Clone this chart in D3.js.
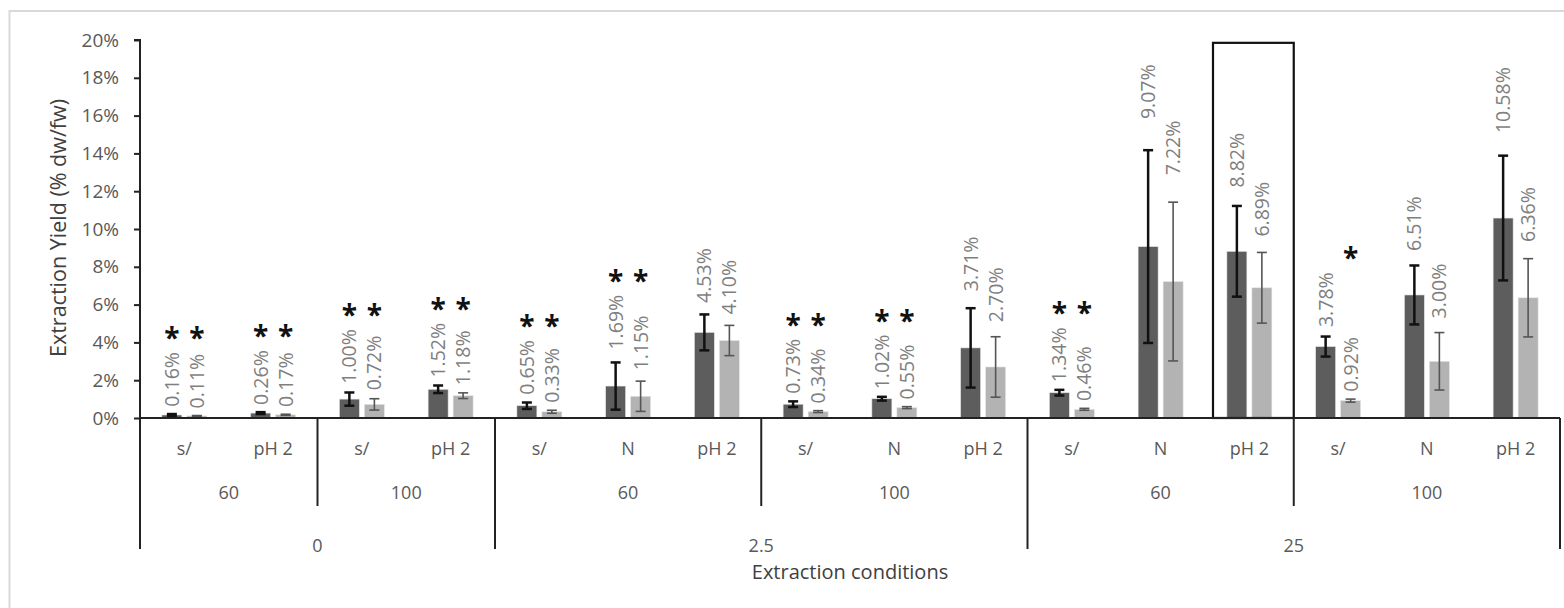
<!DOCTYPE html>
<html>
<head>
<meta charset="utf-8">
<script src="https://cdn.jsdelivr.net/npm/d3@7"></script>
<style>
  html, body { margin: 0; padding: 0; background: #fff; }
  svg { display: block; }
  text { font-family: "Open Sans", "Noto Sans", sans-serif; }
</style>
</head>
<body>
<svg id="chart" width="1564" height="608"></svg>
<script>
// ---- data ----
const concentrations = ["0", "2.5", "25"];
const temperatures = [
  { conc: "0", temp: "60" }, { conc: "0", temp: "100" },
  { conc: "2.5", temp: "60" }, { conc: "2.5", temp: "100" },
  { conc: "25", temp: "60" }, { conc: "25", temp: "100" }
];
const categories = ["s/", "pH 2", "s/", "pH 2",
  "s/", "N", "pH 2", "s/", "N", "pH 2",
  "s/", "N", "pH 2", "s/", "N", "pH 2"];
const tempIndex = [0, 0, 1, 1, 2, 2, 2, 3, 3, 3, 4, 4, 4, 5, 5, 5];
const darkValues = [0.16, 0.26, 1.00, 1.52, 0.65, 1.69, 4.53, 0.73, 1.02, 3.71, 1.34, 9.07, 8.82, 3.78, 6.51, 10.58];
const lightValues = [0.11, 0.17, 0.72, 1.18, 0.33, 1.15, 4.10, 0.34, 0.55, 2.70, 0.46, 7.22, 6.89, 0.92, 3.00, 6.36];
const darkErrors = [0.05, 0.05, 0.35, 0.2, 0.17, 1.25, 0.95, 0.15, 0.1, 2.1, 0.15, 5.1, 2.4, 0.53, 1.56, 3.3];
const lightErrors = [0.02, 0.03, 0.3, 0.15, 0.08, 0.8, 0.8, 0.05, 0.05, 1.6, 0.05, 4.2, 1.87, 0.08, 1.52, 2.07];
const darkSignificant = [1, 1, 1, 1, 1, 1, 0, 1, 1, 0, 1, 0, 0, 0, 0, 0];
const lightSignificant = [1, 1, 1, 1, 1, 1, 0, 1, 1, 0, 1, 0, 0, 1, 0, 0];
const yTicks = [0, 2, 4, 6, 8, 10, 12, 14, 16, 18, 20];
const highlightedCategory = 12;
const yTitle = "Extraction Yield (% dw/fw)";
const xTitle = "Extraction conditions";

(function () {
// ---- layout ----
const svg = d3.select("#chart");
const pl = 140, pr = 1560, pt = 40, pb = 418;
const x = d3.scaleBand().domain(d3.range(categories.length)).range([pl, pr]).padding(0);
const y = d3.scaleLinear().domain([0, 20]).range([pb, pt]);
const barW = 20, barGap = 5;
const fmt = v => v.toFixed(2) + "%";

// chart border
svg.append("path").attr("d", `M9.5,608 V11 H1564`).attr("fill", "none")
  .attr("stroke", "#d9d9d9").attr("stroke-width", 2);

// y axis
const yAxis = d3.axisLeft(y).tickValues(yTicks).tickFormat(d => d + "%").tickSize(6).tickPadding(15);
const gy = svg.append("g").attr("transform", `translate(${pl},0)`).call(yAxis);
gy.select(".domain").attr("stroke", "#222").attr("stroke-width", 2).attr("d", `M-6,${pt}H0V${pb}`);
gy.selectAll(".tick line").attr("stroke", "#222").attr("stroke-width", 2);
gy.selectAll(".tick text").attr("fill", "#595959").attr("font-size", 19).attr("font-family", "Open Sans");

// bars
const series = [
  { key: "dark", values: darkValues, errors: darkErrors, sig: darkSignificant, fill: "#5d5d5d", err: "#111", errW: 2.5, off: -barGap / 2 - barW },
  { key: "light", values: lightValues, errors: lightErrors, sig: lightSignificant, fill: "#b3b3b3", err: "#555", errW: 1.6, off: barGap / 2 }
];
const center = i => x(i) + x.bandwidth() / 2;

series.forEach(s => {
  const g = svg.append("g");
  g.selectAll("rect").data(s.values).join("rect")
    .attr("x", (d, i) => center(i) + s.off)
    .attr("width", barW)
    .attr("y", d => y(d))
    .attr("height", d => y(0) - y(d))
    .attr("fill", s.fill)
    .attr("stroke", "#e6e6e6").attr("stroke-width", 0.6);
  const eg = svg.append("g").attr("stroke", s.err).attr("stroke-width", s.errW);
  s.values.forEach((v, i) => {
    const cx = center(i) + s.off + barW / 2;
    const hi = y(v + s.errors[i]), lo = y(Math.max(0, v - s.errors[i]));
    eg.append("line").attr("x1", cx).attr("x2", cx).attr("y1", hi).attr("y2", lo);
    eg.append("line").attr("x1", cx - 5).attr("x2", cx + 5).attr("y1", hi).attr("y2", hi);
    eg.append("line").attr("x1", cx - 5).attr("x2", cx + 5).attr("y1", lo).attr("y2", lo);
  });
});

// data labels (rotated) and asterisks
const labelSize = 19.5;
const labelTops = categories.map(() => Infinity);
series.forEach(s => {
  s.values.forEach((v, i) => {
    const cx = center(i) + s.off + barW / 2;
    const errTop = y(v + s.errors[i]);
    const errPx = y(v) - errTop;
    const startY = errTop - (7 + 0.25 * errPx);
    const t = svg.append("text")
      .attr("transform", `translate(${cx + labelSize * 0.36},${startY}) rotate(-90)`)
      .attr("font-size", labelSize).attr("fill", "#7f7f7f")
      .text(fmt(v));
    const len = t.node().getComputedTextLength();
    labelTops[i] = Math.min(labelTops[i], startY - len);
  });
});
series.forEach(s => {
  s.values.forEach((v, i) => {
    if (!s.sig[i]) return;
    const cx = center(i) + s.off + barW / 2;
    const cy = labelTops[i] - 21;
    svg.append("text").attr("x", cx).attr("y", cy + 17)
      .attr("text-anchor", "middle").attr("font-size", 28).attr("font-weight", "bold")
      .attr("fill", "#111").text("*");
  });
});

// highlight box
svg.append("rect")
  .attr("x", x(highlightedCategory) + 8).attr("y", y(19.85))
  .attr("width", x.bandwidth() - 8).attr("height", y(0) - y(19.85))
  .attr("fill", "none").attr("stroke", "#111").attr("stroke-width", 2.2);

// x axis line
svg.append("line").attr("x1", pl).attr("x2", pr).attr("y1", pb).attr("y2", pb)
  .attr("stroke", "#222").attr("stroke-width", 2);

// category labels
svg.append("g").selectAll("text").data(categories).join("text")
  .attr("x", (d, i) => center(i)).attr("y", 455)
  .attr("text-anchor", "middle").attr("font-size", 18).attr("fill", "#595959")
  .text(d => d);

// temperature group labels + separators
const tempRanges = temperatures.map((t, k) => {
  const idx = tempIndex.map((ti, i) => ti === k ? i : -1).filter(i => i >= 0);
  return { label: t.temp, conc: t.conc, start: x(idx[0]), end: x(idx[idx.length - 1]) + x.bandwidth() };
});
tempRanges.forEach(r => {
  svg.append("text").attr("x", (r.start + r.end) / 2).attr("y", 499)
    .attr("text-anchor", "middle").attr("font-size", 18).attr("fill", "#595959").text(r.label);
});
const concRanges = concentrations.map(c => {
  const rs = tempRanges.filter(r => r.conc === c);
  return { label: c, start: rs[0].start, end: rs[rs.length - 1].end };
});
tempRanges.forEach((r, k) => {
  if (k === 0) return;
  const isOuter = concRanges.some(c => Math.abs(c.start - r.start) < 0.5);
  if (!isOuter) {
    svg.append("line").attr("x1", r.start).attr("x2", r.start).attr("y1", pb).attr("y2", 506)
      .attr("stroke", "#222").attr("stroke-width", 2);
  }
});
concRanges.forEach(c => {
  svg.append("text").attr("x", (c.start + c.end) / 2).attr("y", 552)
    .attr("text-anchor", "middle").attr("font-size", 18).attr("fill", "#595959").text(c.label);
});
const outerEdges = [concRanges[0].start, ...concRanges.map(c => c.end)];
outerEdges.forEach(xe => {
  svg.append("line").attr("x1", xe).attr("x2", xe).attr("y1", pb).attr("y2", 549)
    .attr("stroke", "#222").attr("stroke-width", 2);
});

// axis titles
svg.append("text").attr("x", 850).attr("y", 579)
  .attr("text-anchor", "middle").attr("font-size", 20).attr("fill", "#404040").text(xTitle);
svg.append("text").attr("transform", `translate(${66},${228}) rotate(-90)`)
  .attr("text-anchor", "middle").attr("font-size", 21.5).attr("fill", "#404040").text(yTitle);
})();
</script>
</body>
</html>
